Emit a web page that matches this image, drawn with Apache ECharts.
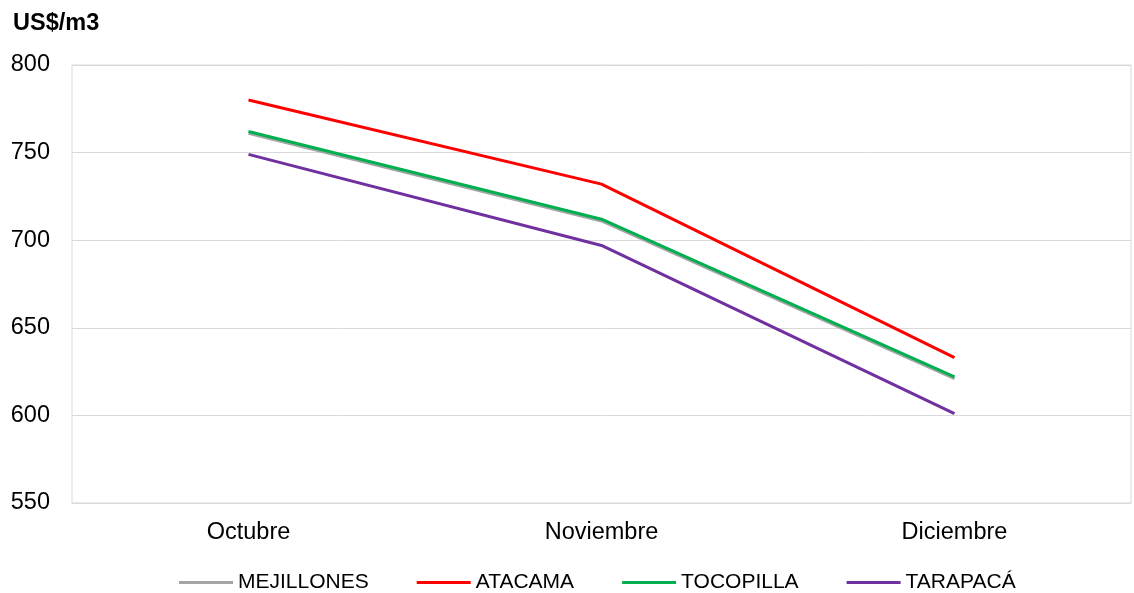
<!DOCTYPE html>
<html>
<head>
<meta charset="utf-8">
<script src="https://cdn.jsdelivr.net/npm/echarts@6/dist/echarts.min.js"></script>
<style>
  html, body { margin: 0; padding: 0; background: #fff; }
  #chart { width: 1134px; height: 593px; }
</style>
</head>
<body>
<div id="chart"></div>
<script>
// Monthly prices per region, US$/m3
const months = ['Octubre', 'Noviembre', 'Diciembre'];
const mejillones = [761, 711, 621];
const atacama = [780, 732, 633];
const tocopilla = [762, 712, 622];
const tarapaca = [749, 697, 601];
const yTicks = { min: 550, max: 800, interval: 50 };

const font = '"Liberation Sans", Arial, sans-serif';

function line(name, data, color, z) {
  return {
    name, type: 'line', data, symbol: 'none', z,
    lineStyle: { color, width: 3 },
    itemStyle: { color }
  };
}

const chart = echarts.init(document.getElementById('chart'), null, { renderer: 'canvas' });
chart.setOption({
  animation: false,
  backgroundColor: '#ffffff',
  title: {
    text: 'US$/m3', left: 13, top: 12, padding: 0,
    textStyle: { fontFamily: font, fontSize: 23.5, fontWeight: 'bold', color: '#000' }
  },
  grid: {
    left: 72, right: 3, top: 65, bottom: 90,
    show: true, borderColor: '#d9d9d9', borderWidth: 1
  },
  legend: {
    top: 572, left: 179, padding: 0,
    icon: 'rect', itemWidth: 54, itemHeight: 3, itemGap: 48,
    textStyle: { fontFamily: font, fontSize: 21, color: '#000' },
    data: ['MEJILLONES', 'ATACAMA', 'TOCOPILLA', 'TARAPACÁ']
  },
  xAxis: {
    type: 'category', data: months, boundaryGap: true,
    axisLine: { show: true, lineStyle: { color: '#d9d9d9' } },
    axisTick: { show: false },
    axisLabel: { fontFamily: font, fontSize: 23.5, color: '#000', margin: 18 }
  },
  yAxis: {
    type: 'value', min: yTicks.min, max: yTicks.max, interval: yTicks.interval,
    axisLine: { show: false }, axisTick: { show: false },
    splitLine: { lineStyle: { color: '#d9d9d9', width: 1 } },
    axisLabel: { fontFamily: font, fontSize: 23.5, color: '#000', margin: 22 }
  },
  series: [
    line('MEJILLONES', mejillones, '#a5a5a5', 1),
    line('ATACAMA', atacama, '#ff0000', 2),
    line('TOCOPILLA', tocopilla, '#00b050', 3),
    line('TARAPACÁ', tarapaca, '#7030a0', 4)
  ]
});
</script>
</body>
</html>
